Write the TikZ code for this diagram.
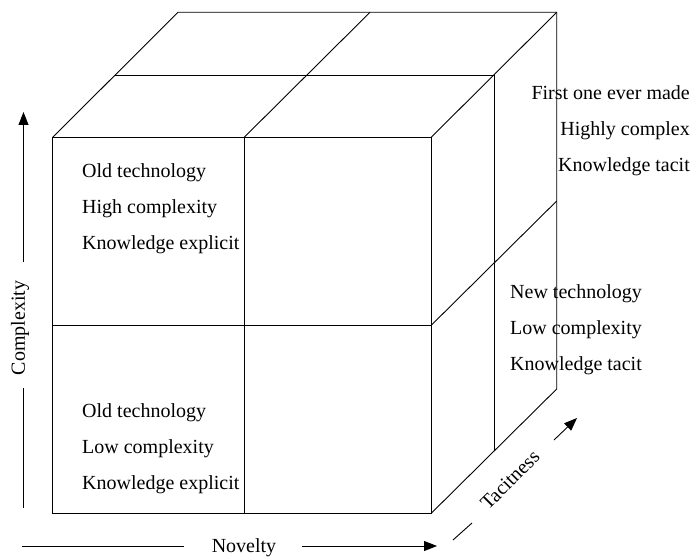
\documentclass[tikz,border=0pt]{standalone}
\usepackage{fontspec}
\setmainfont{Liberation Serif}
\usetikzlibrary{arrows.meta}
\begin{document}
\begin{tikzpicture}[x=1bp,y=-1bp,
  edge/.style={line width=0.9bp,line join=miter},
  axis/.style={line width=0.9bp},
  lbl/.style={inner sep=0pt,font=\fontsize{20bp}{24bp}\selectfont},
  tip/.style={-{Triangle[length=13bp,width=10bp]}}]
\useasboundingbox (0,0) rectangle (693,558);
% front face corners
\coordinate (F1) at (52.5,137.5);
\coordinate (F2) at (431,137.5);
\coordinate (F3) at (431,513.5);
\coordinate (F4) at (52.5,513.5);
\coordinate (FmT) at (244,137.5);
\coordinate (FmB) at (244,513.5);
\coordinate (FmL) at (52.5,325.5);
\coordinate (FmR) at (431,325.5);
% back corners
\coordinate (B1) at (178,12.3);
\coordinate (B2) at (556.7,12.3);
\coordinate (B3) at (556.7,389);
\coordinate (BmT) at (370,12.3);
\coordinate (BmR) at (556.7,201);
% middle depth
\coordinate (M1) at (115.2,75);
\coordinate (M2) at (494,75);
\coordinate (M3) at (494,451);
% cube
\draw[edge] (F1) -- (F2) -- (F3) -- (F4) -- cycle;
\draw[edge] (FmT) -- (FmB);
\draw[edge] (FmL) -- (FmR);
\draw[edge] (F1) -- (B1) -- (B2) -- (B3) -- (F3);
\draw[edge] (F2) -- (B2);
\draw[edge] (FmT) -- (BmT);
\draw[edge] (M1) -- (M2) -- (M3);
\draw[edge] (FmR) -- (BmR);
% texts front top-left
\node[lbl,anchor=base west] (a1) at (82,178) {Old technology};
\node[lbl,anchor=base west] (a2) at (82,214) {High complexity};
\node[lbl,anchor=base west] (a3) at (82,250) {Knowledge explicit};
% texts front bottom-left
\node[lbl,anchor=base west] (b1) at (82,417) {Old technology};
\node[lbl,anchor=base west] (b2) at (82,453) {Low complexity};
\node[lbl,anchor=base west] (b3) at (82,489) {Knowledge explicit};
% texts right middle
\node[lbl,anchor=base west] (c1) at (510,298) {New technology};
\node[lbl,anchor=base west] (c2) at (510,334) {Low complexity};
\node[lbl,anchor=base west] (c3) at (510,370) {Knowledge tacit};
% texts top right
\node[lbl,anchor=base east] (d1) at (690,100) {First one ever made};
\node[lbl,anchor=base east] (d2) at (690,136) {Highly complex};
\node[lbl,anchor=base east] (d3) at (690,172) {Knowledge tacit};
% axes
\node[lbl,rotate=90] (cx) at (20,328) {Complexity};
\coordinate (cxT) at (23.5,112);
\coordinate (cxA) at (23.5,262);
\coordinate (cxB) at (23.5,388);
\coordinate (cxE) at (23.5,508);
\draw[axis,tip] (cxA) -- (cxT);
\draw[axis] (cxB) -- (cxE);
\node[lbl] (nv) at (244,548) {Novelty};
\coordinate (nvS) at (22,546);
\coordinate (nvA) at (184,546);
\coordinate (nvB) at (302,546);
\coordinate (nvT) at (437,546);
\draw[axis] (nvS) -- (nvA);
\draw[axis,tip] (nvB) -- (nvT);
\node[lbl,rotate=45] (tc) at (510,480) {Tacitness};
\coordinate (tcS) at (453,540);
\coordinate (tcA) at (472,523);
\coordinate (tcB) at (554,440);
\coordinate (tcT) at (577,418);
\draw[axis] (tcS) -- (tcA);
\draw[axis,tip] (tcB) -- (tcT);
\end{tikzpicture}
\end{document}
